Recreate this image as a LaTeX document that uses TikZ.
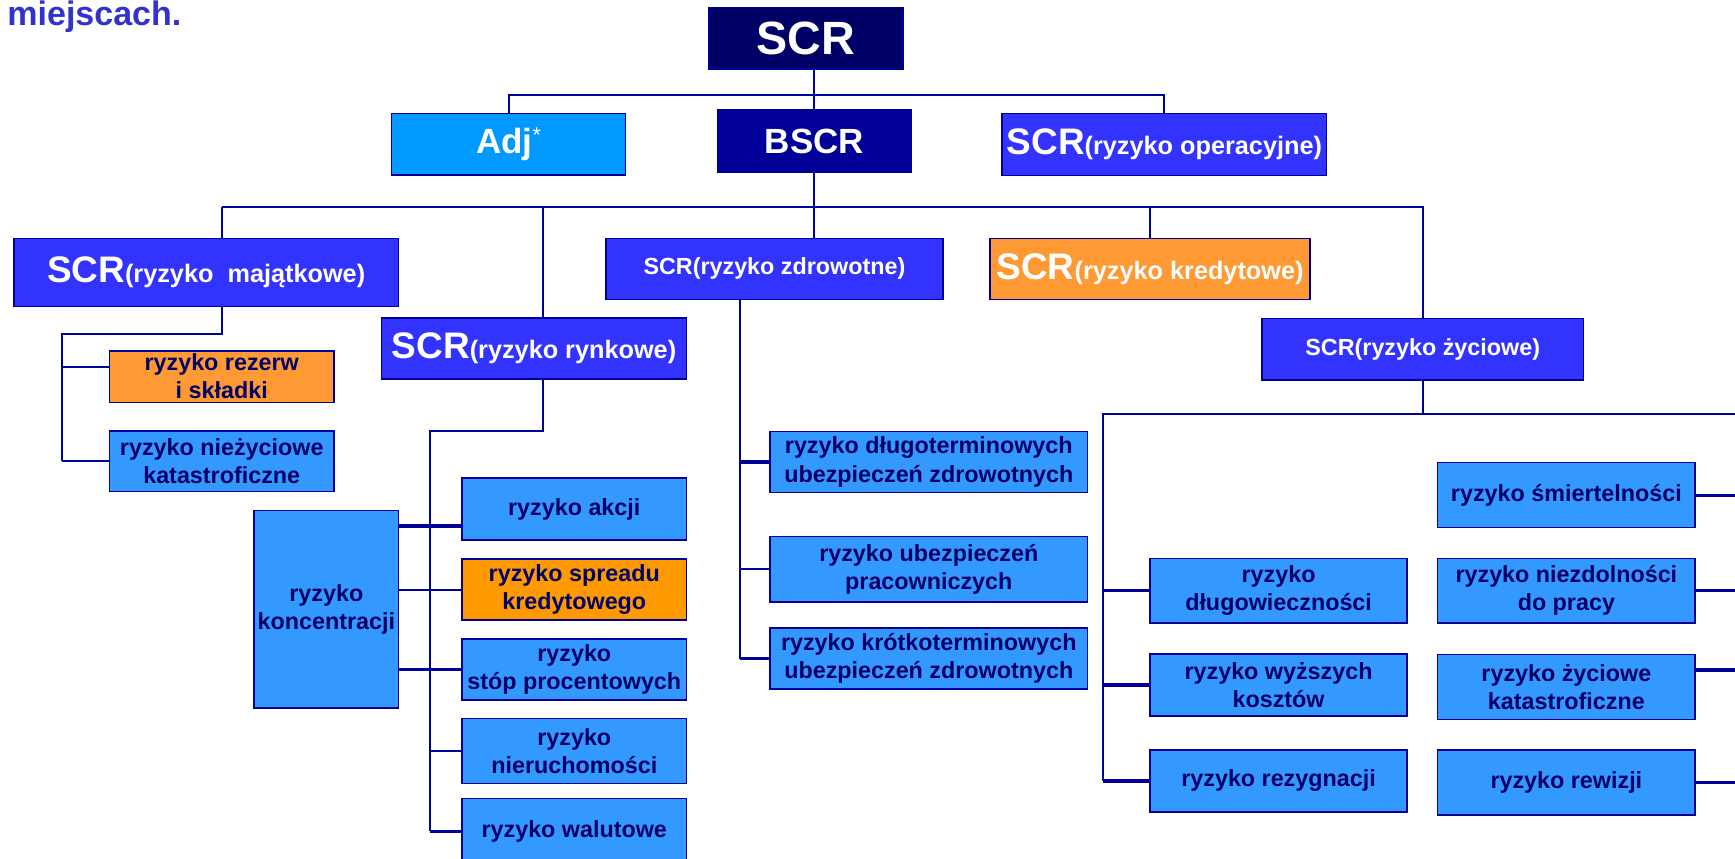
\documentclass[tikz,border=0pt]{standalone}
\usepackage{fontspec}
\setmainfont{Liberation Sans}
\usepackage{tikz}
\definecolor{navy}{RGB}{0, 0, 153}
\definecolor{midnight}{RGB}{0, 0, 102}
\definecolor{sky}{RGB}{0, 153, 255}
\definecolor{royal}{RGB}{51, 51, 255}
\definecolor{azure}{RGB}{51, 153, 255}
\definecolor{peach}{RGB}{255, 153, 51}
\definecolor{amber}{RGB}{255, 153, 0}
\definecolor{heading}{RGB}{51, 51, 204}
\newcommand{\bigscr}{\fontsize{19}{22}\selectfont}
\newcommand{\riskfont}{\fontsize{13}{15}\selectfont}

\begin{document}
\begin{tikzpicture}[x=0.02cm, y=-0.02cm, font={\fontsize{12}{14.5}\selectfont\bfseries},
        box/.style={draw=navy, line width=0.8pt, inner sep=0pt, outer sep=0pt, align=center},
        sz/.style 2 args={minimum width={#1*0.02cm}, minimum height={#2*0.02cm}},
        bluebox/.style={box, fill=royal, text=white},
        lightbox/.style={box, fill=azure, text=midnight},
        orangebox/.style={box, fill=peach, text=midnight},
        link/.style={navy, line width=1pt},
        stub/.style={navy, line width=1.6pt}]

    \useasboundingbox (0, 0) rectangle (1568, 776);

    \node[anchor=base west, text=heading, font={\fontsize{17.5}{20}\selectfont\bfseries}] (title) at (0.5, 23) {miejscach.};

    \node[box, fill=midnight, text=white, sz={175.3}{56}, font={\fontsize{24}{28}\selectfont\bfseries}] (scr) at (728.2, 34.6) {SCR};
    \node[box, fill=sky, text=white, sz={211.4}{55.8}, font={\fontsize{18}{22}\selectfont\bfseries}] (adj) at (459.7, 130.3) {Adj\raisebox{6pt}{\fontsize{11}{11}\selectfont\mdseries *}};
    \node[box, fill=navy, text=white, sz={175.3}{56}, font={\fontsize{18}{22}\selectfont\bfseries}] (bscr) at (736, 127.4) {BSCR};
    \node[bluebox, sz={293.4}{56.4}] (oper) at (1052.3, 130.6) {\bigscr SCR\riskfont(ryzyko operacyjne)};

    \node[bluebox, sz={347.5}{61.8}] (maj) at (186.3, 246.3) {\bigscr SCR\riskfont(ryzyko~~majątkowe)};
    \node[bluebox, sz={304.9}{55.1}] (zdr) at (699.9, 243) {SCR(ryzyko zdrowotne)};
    \node[orangebox, text=white, sz={289.3}{55.1}] (kred) at (1039.4, 243) {\bigscr SCR\riskfont(ryzyko kredytowe)};
    \node[bluebox, sz={275.5}{55}] (ryn) at (482.6, 315.1) {\bigscr SCR\riskfont(ryzyko rynkowe)};
    \node[bluebox, sz={290.8}{55.7}] (zyc) at (1285.8, 315.6) {SCR(ryzyko życiowe)};

    \node[orangebox, sz={203.2}{46.6}] (rezerw) at (200.4, 340.3) {ryzyko rezerw\\i składki};
    \node[lightbox, sz={203.2}{54.8}] (niezyc) at (200.4, 416.7) {ryzyko nieżyciowe\\katastroficzne};

    \node[lightbox, sz={130.8}{178.4}] (konc) at (294.9, 550.7) {ryzyko\\koncentracji};
    \node[lightbox, sz={203.1}{56}] (akcje) at (519, 460) {ryzyko akcji};
    \node[box, fill=amber, text=midnight, sz={203.1}{55.1}] (spread) at (519, 532.8) {ryzyko spreadu\\kredytowego};
    \node[lightbox, sz={203.1}{55.1}] (stopy) at (519, 605) {ryzyko\\stóp procentowych};
    \node[lightbox, sz={203.1}{58.8}] (nieruch) at (519, 678.6) {ryzyko\\nieruchomości};
    \node[lightbox, sz={203.1}{59.5}] (waluty) at (519, 751.2) {ryzyko walutowe};

    \node[lightbox, sz={286.9}{55}] (dlugzdr) at (839.4, 417.5) {ryzyko długoterminowych\\ubezpieczeń zdrowotnych};
    \node[lightbox, sz={286.9}{59}] (pracow) at (839.4, 514.5) {ryzyko ubezpieczeń\\pracowniczych};
    \node[lightbox, sz={286.9}{55.1}] (krotzdr) at (839.4, 595.2) {ryzyko krótkoterminowych\\ubezpieczeń zdrowotnych};

    \node[lightbox, sz={232.2}{58.5}] (dlugow) at (1155.5, 533.8) {ryzyko\\długowieczności};
    \node[lightbox, sz={232.2}{55.7}] (koszty) at (1155.5, 619.1) {ryzyko wyższych\\kosztów};
    \node[lightbox, sz={232.2}{55.6}] (rezyg) at (1155.5, 705.8) {ryzyko rezygnacji};
    \node[lightbox, sz={232.6}{58.8}] (smierc) at (1415.6, 447.5) {ryzyko śmiertelności};
    \node[lightbox, sz={232.6}{58.5}] (niezdol) at (1415.6, 533.8) {ryzyko niezdolności\\do pracy};
    \node[lightbox, sz={232.6}{58.7}] (katastr) at (1415.6, 620.7) {ryzyko życiowe\\katastroficzne};
    \node[lightbox, sz={232.6}{58.8}] (rewizja) at (1415.6, 707.4) {ryzyko rewizji};

    \coordinate (majtap) at (200.6, 186.8);
    \coordinate (ryntap) at (490.5, 186.8);
    \coordinate (majv) at (56, 302);
    \coordinate (rynv) at (388.6, 389.3);
    \coordinate (zdrv) at (668.8, 270.5);
    \coordinate (zycv) at (996.5, 374.5);
    \coordinate (edge) at (1568, 374.5);

    \draw[link] (adj.north) -- ++(0, -16.5) -| (oper.north);
    \draw[link] (bscr.north) -- (bscr.north |- scr.south);
    \draw[link] (bscr.south) -- (bscr.south |- zdr.north);
    \draw[link] (majtap) -| (zyc.north);
    \draw[link] (majtap) -- (majtap |- maj.north);
    \draw[link] (ryntap) -- (ryntap |- ryn.north);
    \draw[link] (kred.north) -- (kred.north |- majtap);

    \draw[link] (majtap |- maj.south) |- (majv) -- (majv |- niezyc.west);
    \draw[link] (majv |- 0, 331.4) -- (rezerw.west |- 0, 331.4);
    \draw[link] (majv |- niezyc.west) -- (niezyc.west);

    \draw[link] (ryntap |- ryn.south) |- (rynv) -- (rynv |- waluty.west);
    \draw[stub] (konc.east |- 0, 475.4) -- (akcje.west |- 0, 475.4);
    \draw[link] (konc.east |- spread.west) -- (spread.west);
    \draw[stub] (konc.east |- stopy.west) -- (stopy.west);
    \draw[link] (rynv |- nieruch.west) -- (nieruch.west);
    \draw[stub] (rynv |- waluty.west) -- (waluty.west);

    \draw[link] (zdrv) -- (zdrv |- krotzdr.west);
    \draw[stub] (zdrv |- dlugzdr.west) -- (dlugzdr.west);
    \draw[link] (zdrv |- pracow.west) -- (pracow.west);
    \draw[stub] (zdrv |- krotzdr.west) -- (krotzdr.west);

    \draw[link] (zyc.south) -- (zyc.south |- zycv);
    \draw[link] (edge) -- (zycv) -- (zycv |- rezyg.west);
    \foreach \n in {dlugow, koszty, rezyg} {
            \draw[stub] (zycv |- \n.west) -- (\n.west);
        }
    \foreach \n in {smierc, niezdol, rewizja} {
            \draw[stub] (\n.east) -- (\n.east -| edge);
        }
    \draw[stub] (katastr.east |- 0, 605.5) -- (edge |- 0, 605.5);

\end{tikzpicture}
\end{document}
